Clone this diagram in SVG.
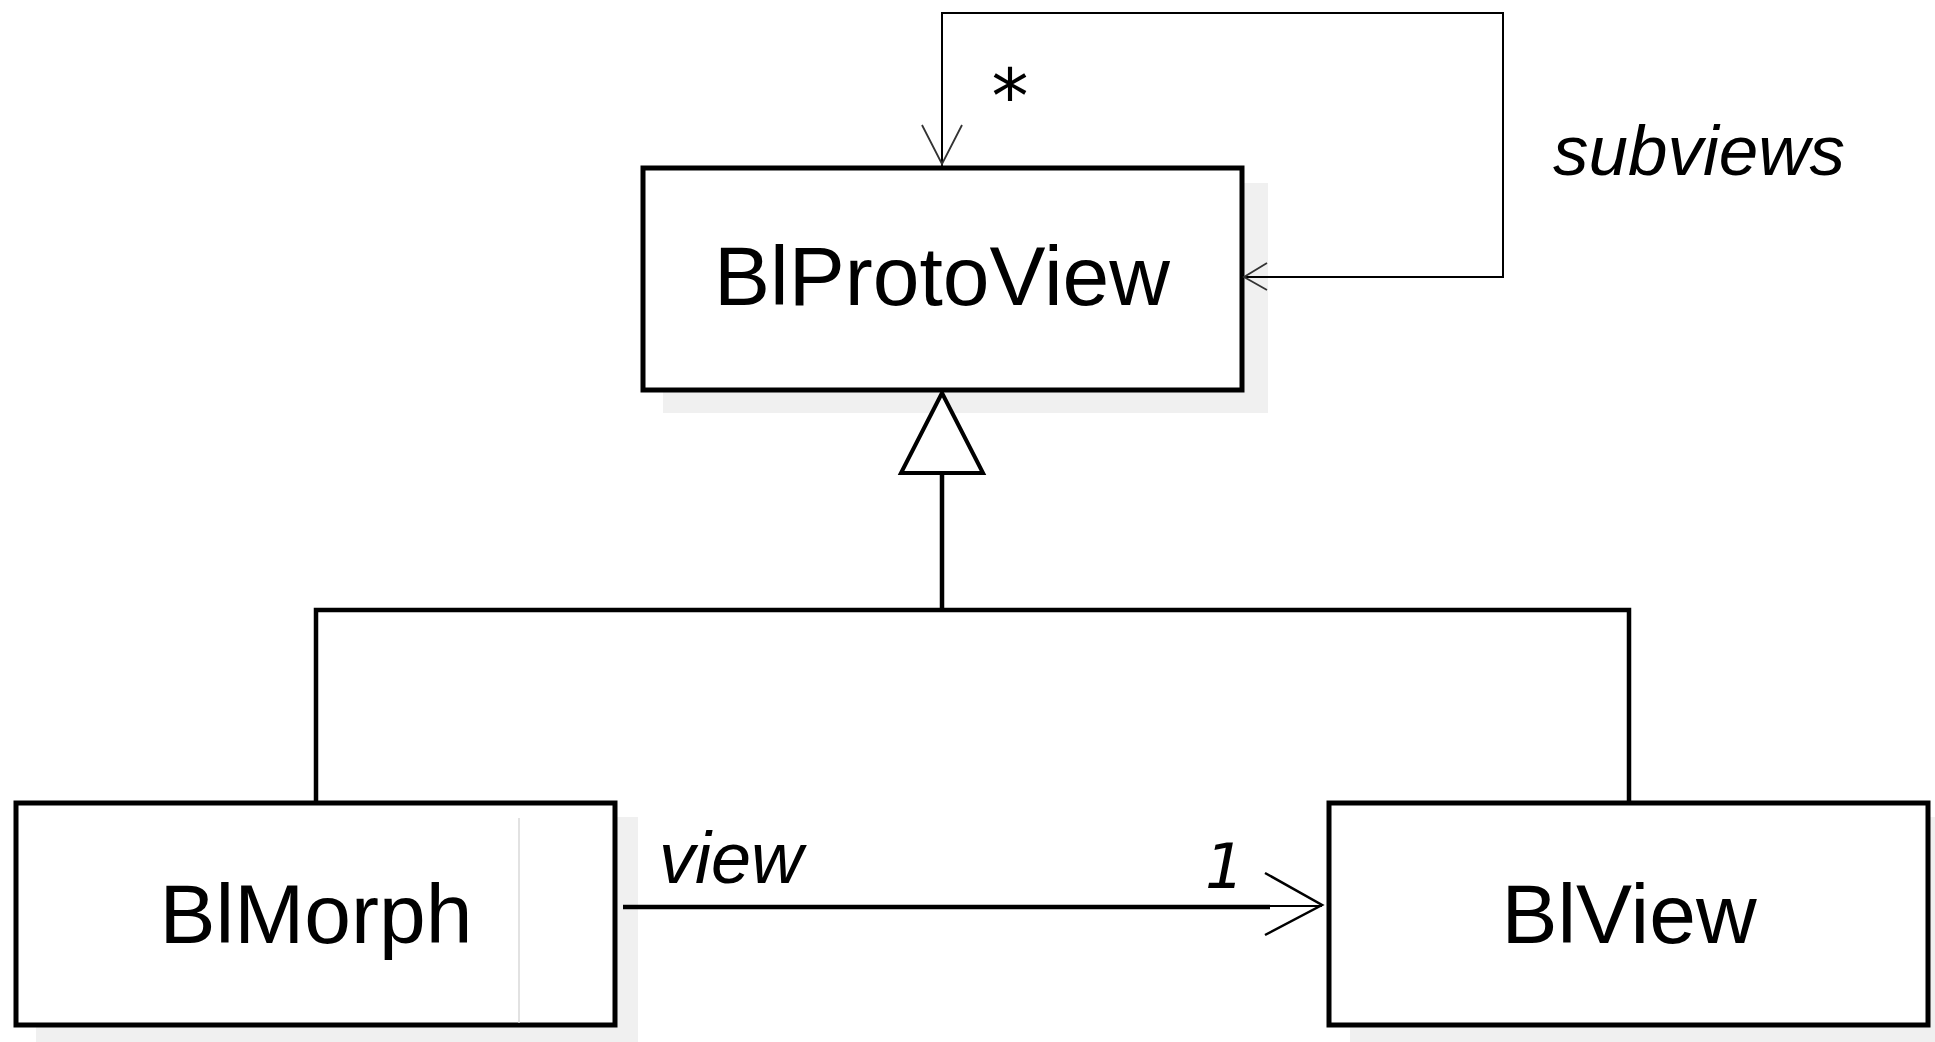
<svg xmlns="http://www.w3.org/2000/svg" width="1935" height="1042" viewBox="0 0 1935 1042">
<style>
.box{fill:#fff;stroke:#000;stroke-width:5}
.shadow{fill:#f0f0f0}
.name{font-family:"Liberation Sans",Arial,sans-serif;font-size:84px;fill:#000;text-anchor:middle}
.lbl{font-family:"Liberation Sans",Arial,sans-serif;font-style:italic;fill:#000}
.mult{font-family:"DejaVu Sans",sans-serif;fill:#000}
.thin{fill:none;stroke:#000;stroke-width:2}
.thick{fill:none;stroke:#000;stroke-width:4.5}
.wing{fill:none;stroke:#333;stroke-width:1.8}
</style>
<rect width="1935" height="1042" fill="#fff"/>
<g id="BlProtoView">
<rect class="shadow" x="663" y="183" width="605" height="230"/>
<rect class="box" x="643" y="168" width="599" height="222"/>
<text class="name" x="942" y="305">BlProtoView</text>
</g>
<g id="BlMorph">
<rect class="shadow" x="36" y="817" width="602" height="225"/>
<rect class="box" x="16" y="803" width="599" height="222"/>
<line x1="519" y1="818" x2="519" y2="1023" stroke="#d8d8d8" stroke-width="1.5"/>
<text class="name" x="316" y="943">BlMorph</text>
</g>
<g id="BlView">
<rect class="shadow" x="1350" y="817" width="585" height="225"/>
<rect class="box" x="1329" y="803" width="599" height="222"/>
<text class="name" x="1629" y="943">BlView</text>
</g>
<g id="connectors">
<!-- self association subviews -->
<polyline class="thin" points="942,166 942,13 1503,13 1503,277 1244,277"/>
<polyline class="wing" points="922,125 942,164 962,125"/>
<polyline class="wing" points="1267,263 1244,277 1267,290"/>
<text class="mult" x="1010" y="122" font-size="74" text-anchor="middle">*</text>
<text class="lbl" x="1553" y="175" font-size="71">subviews</text>
<!-- generalization -->
<polyline class="thick" points="316,803 316,610 1629,610 1629,803"/>
<line class="thick" x1="942" y1="610" x2="942" y2="473"/>
<polygon points="942,393 901,473 983,473" fill="#fff" stroke="#000" stroke-width="4" stroke-linejoin="miter"/>
<!-- association view -->
<line class="thick" x1="623" y1="907" x2="1270" y2="907"/>
<line class="thin" x1="1268" y1="906" x2="1322" y2="906"/>
<polyline fill="none" stroke="#000" stroke-width="2.5" points="1265,873 1322,905 1265,935"/>
<text class="lbl" x="659" y="883" font-size="72">view</text>
<text class="mult" x="1205" y="888" font-size="62" font-style="italic">1</text>
</g>
</svg>
